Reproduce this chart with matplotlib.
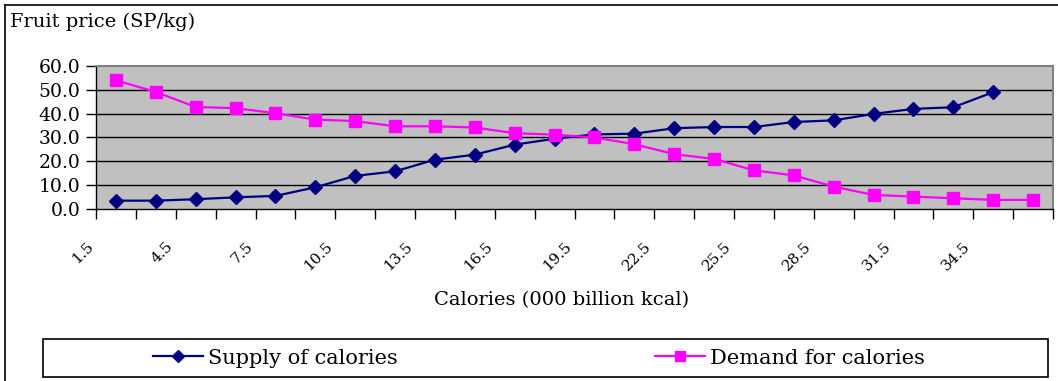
import matplotlib
matplotlib.use("Agg")
import matplotlib.pyplot as plt
from matplotlib.lines import Line2D
from matplotlib.patches import Rectangle

# ---- data ----
tick_labels = ["1.5", "4.5", "7.5", "10.5", "13.5", "16.5", "19.5",
               "22.5", "25.5", "28.5", "31.5", "34.5"]
supply = [3.5, 3.5, 4.1, 4.9, 5.5, 9.1, 13.9, 15.8, 20.7, 22.8, 27.0, 29.5,
          31.3, 31.6, 33.9, 34.4, 34.4, 36.5, 37.2, 39.9, 42.0, 42.7, 49.0]
demand = [54.0, 49.1, 42.8, 42.3, 40.2, 37.5, 36.9, 34.7, 34.7, 34.2, 31.8,
          31.2, 30.0, 27.2, 23.0, 21.0, 16.2, 14.1, 9.4, 5.9, 5.2, 4.5, 3.8, 3.8]
y_ticks = [0, 10, 20, 30, 40, 50, 60]

n_cat = len(demand)
W, H = 1058, 381
fig = plt.figure(figsize=(W / 100, H / 100), dpi=100)
plt.rcParams['font.family'] = ['DejaVu Serif']

ax = fig.add_axes([96 / W, 1 - 209 / H, (1053 - 96) / W, (209 - 66) / H])
ax.set_facecolor("#C0C0C0")
ax.set_xlim(-0.5, n_cat - 0.5)
ax.set_ylim(0, 60)

for v in y_ticks[1:-1]:
    ax.axhline(v, color="#000000", lw=1.0, zorder=1)

xs_s = list(range(len(supply)))
xs_d = list(range(len(demand)))
ax.plot(xs_s, supply, color="#000080", marker="D", markersize=7, lw=1.6,
        label="Supply of calories", zorder=3)
ax.plot(xs_d, demand, color="#FF00FF", marker="s", markersize=8, lw=1.6,
        label="Demand for calories", zorder=3)

# ticks
ax.set_yticks(y_ticks)
ax.set_yticklabels([f"{v:.1f}" for v in y_ticks], fontsize=13.5)
major_x = [-0.5 + k for k in range(n_cat + 1)]
ax.set_xticks(major_x)
lbls = []
for k in range(n_cat + 1):
    lbls.append(tick_labels[k // 2] if (k % 2 == 0 and k // 2 < len(tick_labels)) else "")
ax.set_xticklabels(lbls, fontsize=11, rotation=45, ha="right")
ax.tick_params(axis="x", length=7, width=1, pad=15, direction="out")
ax.tick_params(axis="y", length=7, width=1, pad=4, direction="out")

for side in ["top", "right"]:
    ax.spines[side].set_color("#808080")
    ax.spines[side].set_linewidth(1.5)
for side in ["left", "bottom"]:
    ax.spines[side].set_color("#000000")
    ax.spines[side].set_linewidth(1.0)

# texts
fig.text(10 / W, 1 - 22 / H, "Fruit price (SP/kg)", fontsize=14,
         ha="left", va="center")
fig.text(562 / W, 1 - 300 / H, "Calories (000 billion kcal)", fontsize=14,
         ha="center", va="center")

# outer frame (top and left lines)
fig.add_artist(Line2D([5 / W, 5 / W], [0, 1 - 5 / H], color="black", lw=1.2,
                      transform=fig.transFigure))
fig.add_artist(Line2D([5 / W, 1], [1 - 5 / H, 1 - 5 / H], color="black", lw=1.2,
                      transform=fig.transFigure))

# legend box
fig.add_artist(Rectangle((43 / W, 1 - 377 / H), (1048 - 43) / W, (377 - 339) / H,
                         transform=fig.transFigure, facecolor="white",
                         edgecolor="black", lw=1.2))
handles, labels = ax.get_legend_handles_labels()
leg = fig.legend(handles, labels, loc="center",
                 bbox_to_anchor=(153 / W, 1 - 372 / H, (925 - 153) / W, (372 - 344) / H),
                 mode="expand", ncol=2, frameon=False, fontsize=15,
                 handlelength=2.4, handletextpad=0.25, borderpad=0,
                 borderaxespad=0, markerscale=0.85)

fig.savefig("out.png", dpi=100)
